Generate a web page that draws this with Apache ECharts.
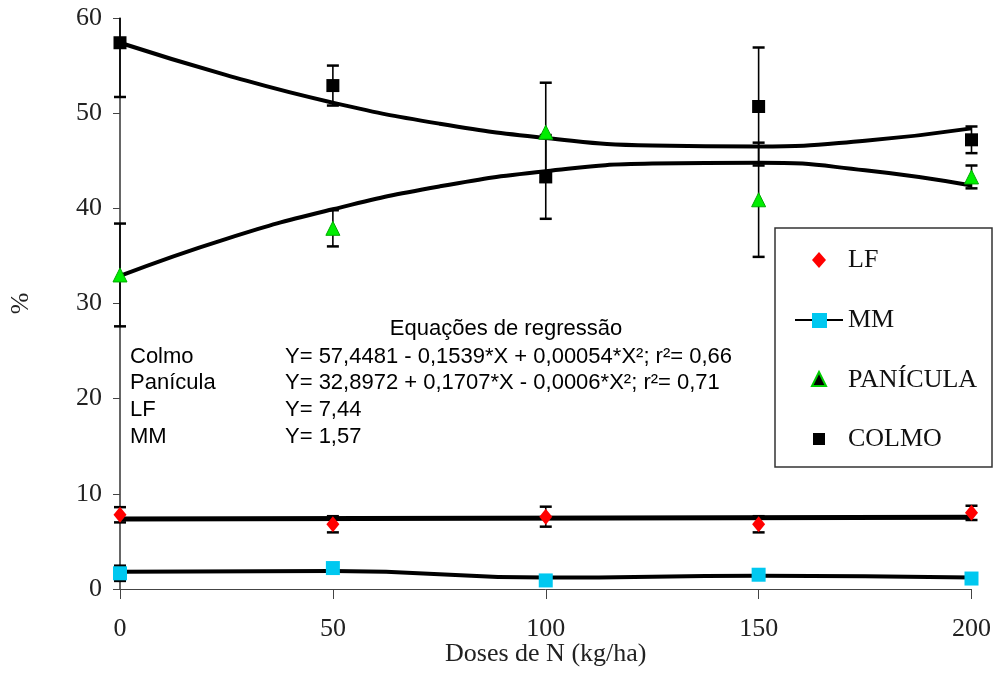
<!DOCTYPE html>
<html>
<head>
<meta charset="utf-8">
<script src="https://cdn.jsdelivr.net/npm/echarts@6/dist/echarts.min.js"></script>
<style>
  html, body { margin: 0; padding: 0; background: #fff; }
  #main { width: 994px; height: 692px; }
</style>
</head>
<body>
<div id="main"></div>
<script>
// doses de N (kg/ha)
const doses = [0, 50, 100, 150, 200];

// médias observadas (%) e desvios (barras de erro)
const colmo = [57.4, 52.9, 43.3, 50.7, 47.2];
const colmoErr = [5.7, 2.1, 4.4, 6.2, 1.4];
const panicula = [33.0, 37.9, 48.0, 40.9, 43.3];
const paniculaErr = [5.4, 1.9, 5.2, 6.0, 1.2];
const lf = [7.8, 6.8, 7.6, 6.8, 8.0];
const lfErr = [0.8, 0.85, 1.05, 0.85, 0.75];
const mm = [1.65, 2.2, 0.9, 1.5, 1.1];
const mmErr = [0.8, 0.5, 0.3, 0.3, 0.2];

// curvas ajustadas
const fitX = [0, 25, 50, 75, 100, 125, 150, 175, 200];
const colmoFit = [57.4, 54.0, 51.1, 48.9, 47.4, 46.6, 46.5, 47.1, 48.4];
const paniculaFit = [32.9, 36.8, 39.9, 42.3, 43.9, 44.7, 44.8, 44.0, 42.4];
const lfFitX = [0, 200];
const lfFit = [7.35, 7.55];
const mmFit = [1.8, 1.9, 1.2, 1.4, 1.2];

const legendNames = ['LF', 'MM', 'PANÍCULA', 'COLMO'];
const yMax = 60;

const pairs = (xs, ys) => xs.map((x, i) => [x, ys[i]]);
const bars = (ys, es) => doses.map((x, i) => [x, ys[i] - es[i], ys[i] + es[i]]);

function renderErr(params, api) {
  const x = api.value(0);
  const lo = api.value(1);
  const hi = api.value(2);
  const clipped = hi > yMax;
  const top = api.coord([x, Math.min(hi, yMax)]);
  const bot = api.coord([x, lo]);
  const w = 6;
  const cap = { stroke: '#000', lineWidth: 2.5 };
  const kids = [
    { type: 'line', shape: { x1: top[0], y1: top[1], x2: bot[0], y2: bot[1] }, style: { stroke: '#000', lineWidth: 1.6 } },
    { type: 'line', shape: { x1: bot[0] - w, y1: bot[1], x2: bot[0] + w, y2: bot[1] }, style: cap }
  ];
  if (!clipped) {
    kids.push({ type: 'line', shape: { x1: top[0] - w, y1: top[1], x2: top[0] + w, y2: top[1] }, style: cap });
  }
  return { type: 'group', children: kids };
}

function fitLine(name, data, width) {
  return {
    name: name, type: 'line', data: data, smooth: true, showSymbol: false,
    lineStyle: { color: '#000', width: width }, z: 3, silent: true
  };
}

function errSeries(name, data) {
  return { name: name, type: 'custom', renderItem: renderErr, data: data, z: 4, silent: true };
}

const serif = "'Liberation Serif', 'Times New Roman', serif";
const sans = "'Liberation Sans', Arial, sans-serif";

const chart = echarts.init(document.getElementById('main'), null, { renderer: 'canvas' });

// quadro de equações
const eqStyle = { fontFamily: sans, fontSize: 22, fill: '#000' };
const eqRows = [
  ['Colmo', 'Y= 57,4481 - 0,1539*X + 0,00054*X²; r²= 0,66', 357],
  ['Panícula', 'Y= 32,8972 + 0,1707*X - 0,0006*X²; r²= 0,71', 383],
  ['LF', 'Y= 7,44', 410],
  ['MM', 'Y= 1,57', 437]
];
const graphic = [{
  type: 'text', x: 506, y: 329,
  style: Object.assign({ text: 'Equações de regressão', align: 'center', verticalAlign: 'middle' }, eqStyle), z: 10
}];
eqRows.forEach(r => {
  graphic.push({ type: 'text', x: 130, y: r[2], style: Object.assign({ text: r[0], verticalAlign: 'middle' }, eqStyle), z: 10 });
  graphic.push({ type: 'text', x: 285, y: r[2], style: Object.assign({ text: r[1], verticalAlign: 'middle' }, eqStyle), z: 10 });
});

// legenda desenhada à mão (caixa à direita)
const legY = [260, 320, 380, 439];
const sx = 819;
graphic.push({ type: 'rect', shape: { x: 775, y: 228, width: 217, height: 239 }, style: { fill: '#fff', stroke: '#333', lineWidth: 1.5 }, z: 20 });
graphic.push({ type: 'polygon', shape: { points: [[sx, legY[0] - 8], [sx + 7, legY[0]], [sx, legY[0] + 8], [sx - 7, legY[0]]] }, style: { fill: '#ff0000' }, z: 21 });
graphic.push({ type: 'line', shape: { x1: 795, y1: legY[1], x2: 843, y2: legY[1] }, style: { stroke: '#000', lineWidth: 2 }, z: 21 });
graphic.push({ type: 'rect', shape: { x: sx - 7, y: legY[1] - 7, width: 15, height: 15 }, style: { fill: '#00c8f0' }, z: 22 });
graphic.push({ type: 'polygon', shape: { points: [[sx, legY[2] - 8], [sx + 7, legY[2] + 6], [sx - 7, legY[2] + 6]] }, style: { fill: '#000', stroke: '#00cc00', lineWidth: 2 }, z: 21 });
graphic.push({ type: 'rect', shape: { x: sx - 6, y: legY[3] - 6, width: 12, height: 12 }, style: { fill: '#000' }, z: 21 });
legendNames.forEach((n, i) => {
  graphic.push({ type: 'text', x: 848, y: legY[i], style: { text: n, fontFamily: serif, fontSize: 26, fill: '#111', verticalAlign: 'middle' }, z: 21 });
});

const option = {
  animation: false,
  backgroundColor: '#fff',
  grid: { left: 117, right: 19, top: 18, bottom: 103, containLabel: false },
  xAxis: {
    type: 'value', min: 0, max: 200, interval: 50,
    name: 'Doses de N (kg/ha)', nameLocation: 'middle', nameGap: 52, nameMoveOverlap: false,
    nameTextStyle: { fontFamily: serif, fontSize: 26, color: '#222' },
    axisLine: { show: true, onZero: false, lineStyle: { color: '#444', width: 1 } },
    axisTick: { show: true, length: 10, lineStyle: { color: '#444' } },
    axisLabel: { fontFamily: serif, fontSize: 26, color: '#222', margin: 27 },
    splitLine: { show: false }
  },
  yAxis: {
    type: 'value', min: 0, max: yMax, interval: 10,
    name: '%', nameLocation: 'middle', nameGap: 86, nameRotate: 90,
    nameTextStyle: { fontFamily: serif, fontSize: 26, color: '#222' },
    axisLine: { show: true, onZero: false, lineStyle: { color: '#333', width: 1.5 } },
    axisTick: { show: true, length: 7, lineStyle: { color: '#444' } },
    axisLabel: { fontFamily: serif, fontSize: 26, color: '#222', margin: 18 },
    splitLine: { show: false }
  },
  graphic: graphic,
  series: [
    fitLine('fitColmo', pairs(fitX, colmoFit), 4),
    fitLine('fitPanicula', pairs(fitX, paniculaFit), 4),
    fitLine('fitLF', pairs(lfFitX, lfFit), 5),
    fitLine('fitMM', pairs(doses, mmFit), 4),
    errSeries('errColmo', bars(colmo, colmoErr)),
    errSeries('errPanicula', bars(panicula, paniculaErr)),
    errSeries('errLF', bars(lf, lfErr)),
    errSeries('errMM', bars(mm, mmErr)),
    {
      name: 'LF', type: 'scatter', data: pairs(doses, lf),
      symbol: 'diamond', symbolSize: [13, 16],
      itemStyle: { color: '#ff0000', opacity: 1 }, z: 5
    },
    {
      name: 'MM', type: 'scatter', data: pairs(doses, mm),
      symbol: 'rect', symbolSize: 14,
      itemStyle: { color: '#00c8f0', opacity: 1 }, z: 5
    },
    {
      name: 'PANÍCULA', type: 'scatter', data: pairs(doses, panicula),
      symbol: 'triangle', symbolSize: 14,
      itemStyle: { color: '#00ee00', borderColor: '#00aa00', borderWidth: 1, opacity: 1 }, z: 5
    },
    {
      name: 'COLMO', type: 'scatter', data: pairs(doses, colmo),
      symbol: 'rect', symbolSize: 13,
      itemStyle: { color: '#000', opacity: 1 }, z: 5
    }
  ]
};

chart.setOption(option);
</script>
</body>
</html>
